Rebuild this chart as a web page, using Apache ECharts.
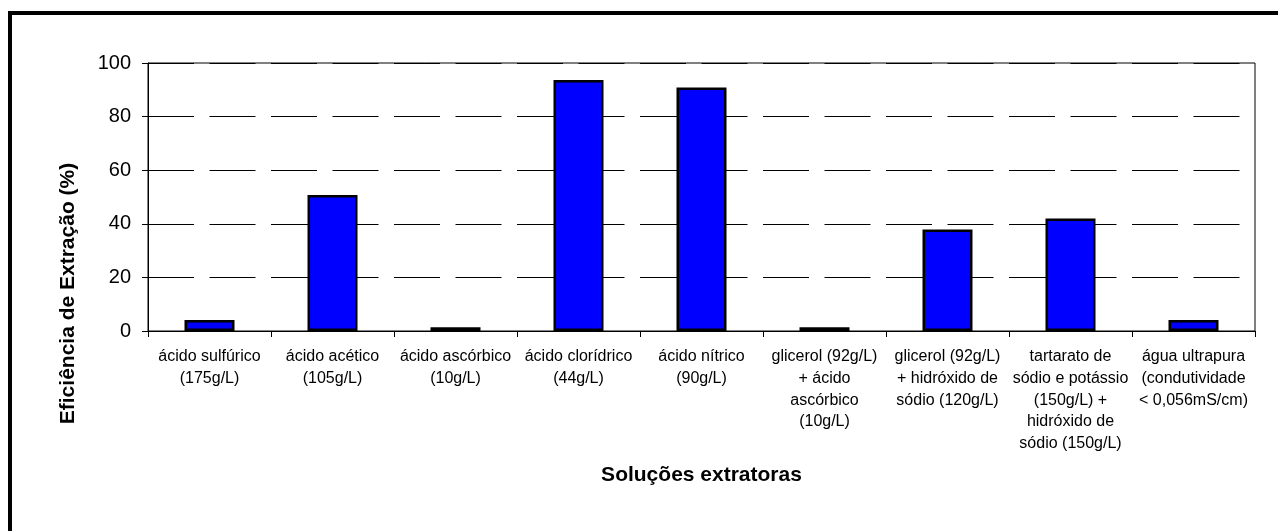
<!DOCTYPE html>
<html>
<head>
<meta charset="utf-8">
<script src="https://cdn.jsdelivr.net/npm/echarts@6/dist/echarts.min.js"></script>
<style>
html,body{margin:0;padding:0;background:#fff;}
#chart{width:1278px;height:531px;}
</style>
</head>
<body>
<div id="chart"></div>
<script>
const categories = [
  "ácido sulfúrico\n(175g/L)",
  "ácido acético\n(105g/L)",
  "ácido ascórbico\n(10g/L)",
  "ácido clorídrico\n(44g/L)",
  "ácido nítrico\n(90g/L)",
  "glicerol (92g/L)\n+ ácido\nascórbico\n(10g/L)",
  "glicerol (92g/L)\n+ hidróxido de\nsódio (120g/L)",
  "tartarato de\nsódio e potássio\n(150g/L) +\nhidróxido de\nsódio (150g/L)",
  "água ultrapura\n(condutividade\n< 0,056mS/cm)"
];
const values = [4.1, 50.7, 1.4, 93.7, 90.9, 1.4, 37.9, 42.0, 4.1];
const yTicks = [0, 20, 40, 60, 80, 100];
const yTitle = "Eficiência de Extração (%)";
const xTitle = "Soluções extratoras";

const FONT = "'Liberation Sans', Arial, sans-serif";
const chart = echarts.init(document.getElementById('chart'), null, {renderer: 'canvas'});
chart.setOption({
  animation: false,
  backgroundColor: '#fff',
  grid: {left: 148, right: 23, top: 63, bottom: 200, show: true, borderColor: '#000', borderWidth: 1, backgroundColor: 'transparent'},
  xAxis: {
    type: 'category',
    data: categories,
    axisLine: {lineStyle: {color: '#000', width: 1}},
    axisTick: {show: true, length: 6, inside: false, alignWithLabel: false, lineStyle: {color: '#000'}},
    axisLabel: {interval: 0, color: '#000', fontFamily: FONT, fontSize: 16, lineHeight: 21.7, margin: 15, align: 'center'},
    splitLine: {show: false}
  },
  yAxis: {
    type: 'value',
    min: yTicks[0],
    max: yTicks[yTicks.length - 1],
    interval: 20,
    axisLine: {show: true, lineStyle: {color: '#000', width: 1}},
    axisTick: {show: true, length: 6, lineStyle: {color: '#000'}},
    axisLabel: {color: '#000', fontFamily: FONT, fontSize: 20, margin: 17},
    splitLine: {show: true, lineStyle: {color: '#000', width: 1, type: [46, 15.5]}}
  },
  series: [{
    type: 'bar',
    data: values,
    barWidth: 50,
    itemStyle: {color: '#0000FF', borderColor: '#000', borderWidth: 2.5}
  }],
  graphic: [
    {type: 'rect', shape: {x: 10, y: 13, width: 2000, height: 2000}, style: {fill: 'none', stroke: '#000', lineWidth: 4}, silent: true, z: 100},
    {type: 'text', x: 68, y: 293.5, rotation: Math.PI / 2, style: {text: yTitle, fill: '#000', font: "bold 21px 'Liberation Sans', Arial, sans-serif", align: 'center', verticalAlign: 'middle'}},
    {type: 'text', x: 701.5, y: 475, style: {text: xTitle, fill: '#000', font: "bold 21px 'Liberation Sans', Arial, sans-serif", align: 'center', verticalAlign: 'middle'}}
  ]
});
</script>
</body>
</html>
